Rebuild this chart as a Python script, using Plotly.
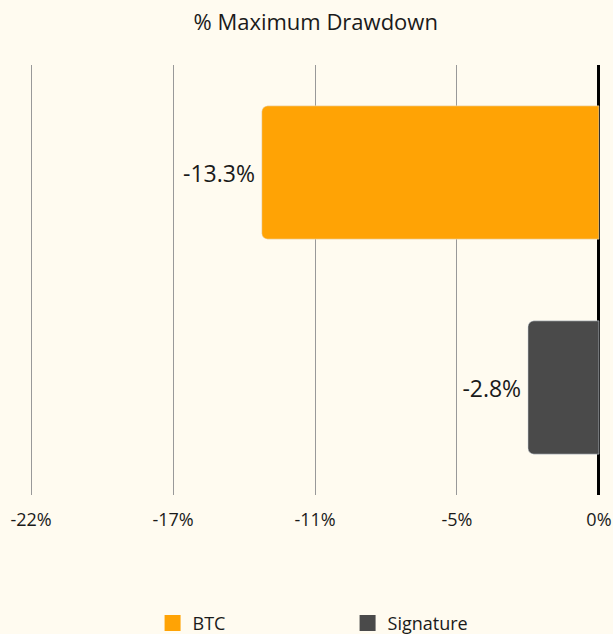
import plotly.graph_objects as go

categories = ["BTC", "Signature"]
values = [-13.3, -2.8]
colors = ["#FFA305", "#4A4A4A"]
tick_vals = [-22.4, -16.8, -11.2, -5.6, 0]
tick_text = ["-22%", "-17%", "-11%", "-5%", "0%"]

FONT = "Open Sans, Lato, sans-serif"

fig = go.Figure()
for c, v, col in zip(categories, values, colors):
    fig.add_trace(go.Bar(
        y=[c], x=[v], orientation="h", marker_color=col,
        text=[f"{v:.1f}%\u2009"], textposition="outside", cliponaxis=False,
        textfont=dict(size=23, color="#1a1a1a"), showlegend=False,
        hoverinfo="skip",
    ))
    fig.add_trace(go.Scatter(
        x=[None], y=[None], mode="markers", name=c,
        marker=dict(symbol="square", size=18, color=col),
    ))

fig.update_layout(
    width=613, height=634,
    paper_bgcolor="#FFFBF0", plot_bgcolor="#FFFBF0",
    font=dict(family=FONT, color="#1a1a1a"),
    title=dict(text="% Maximum Drawdown", x=0.515, xanchor="center", y=0.965, yanchor="middle",
               font=dict(size=22, color="#1a1a1a")),
    margin=dict(l=26, r=9, t=65, b=139, autoexpand=False),
    bargap=0.38, barmode="overlay", barcornerradius=6,
    showlegend=True,
    legend=dict(orientation="h", x=0.219, xanchor="left", y=0.017, yanchor="middle",
                yref="container",
                font=dict(size=18), entrywidth=150, bgcolor="rgba(0,0,0,0)",
                itemclick=False),
)
fig.update_xaxes(range=[-22.6, 0.2], tickvals=tick_vals, ticktext=tick_text,
                 showgrid=True, gridcolor="#999999", gridwidth=1,
                 zeroline=True, zerolinecolor="#000000", zerolinewidth=3,
                 tickfont=dict(size=18), ticks="", showline=False, fixedrange=True,
                 automargin=False, ticklabelstandoff=12)
fig.update_yaxes(categoryorder="array", categoryarray=categories,
                 autorange="reversed", showticklabels=False, showgrid=False, zeroline=False,
                 automargin=False, fixedrange=True)

fig.write_html("out.html", config={"responsive": False, "displayModeBar": False},
               post_script="document.body.style.margin='0';")
